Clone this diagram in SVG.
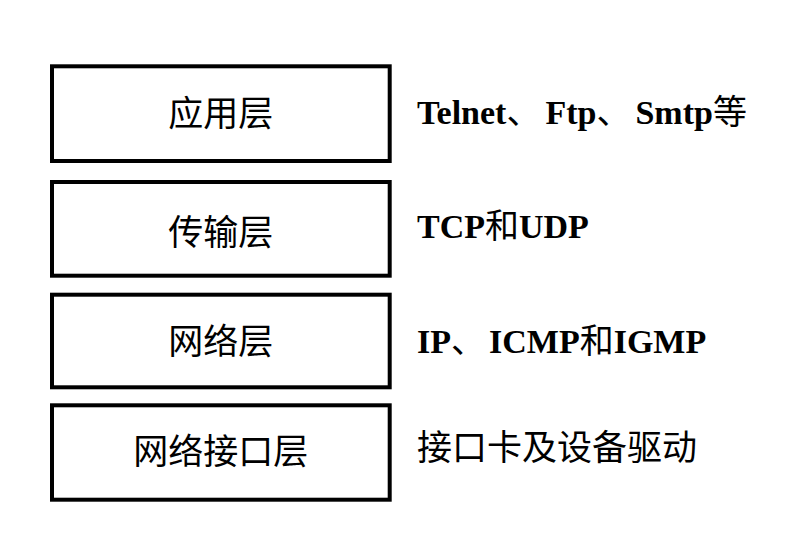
<svg xmlns="http://www.w3.org/2000/svg" width="785" height="557" viewBox="0 0 785 557">
<style>
.box{fill:#fff;stroke:#000;stroke-width:4}
.cn{font-family:"Noto Sans CJK SC","Noto Sans",sans-serif;font-size:35px;fill:#000}
.bd{font-family:"Liberation Serif","Noto Sans CJK SC",serif;font-size:34px;font-weight:bold;fill:#000}
.cj{font-family:"Noto Sans CJK SC",sans-serif;font-weight:normal}
</style>
<rect width="785" height="557" fill="#fff"/>
<g id="app">
<rect class="box" x="52" y="66.3" width="337.7" height="94.7"/>
<text class="cn" x="220.8" y="110.5" text-anchor="middle" dominant-baseline="central">应用层</text>
</g>
<g id="transport">
<rect class="box" x="52" y="182" width="337.7" height="93.7"/>
<text class="cn" x="220.8" y="229" text-anchor="middle" dominant-baseline="central">传输层</text>
</g>
<g id="network">
<rect class="box" x="52" y="294.7" width="337.7" height="92.6"/>
<text class="cn" x="220.8" y="338.5" text-anchor="middle" dominant-baseline="central">网络层</text>
</g>
<g id="link">
<rect class="box" x="52" y="405.3" width="337.7" height="94.4"/>
<text class="cn" x="220.8" y="448.5" text-anchor="middle" dominant-baseline="central">网络接口层</text>
</g>
<g id="labels">
<text class="bd" x="417" y="124">Telnet<tspan class="cj">、</tspan><tspan dx="5">Ftp</tspan><tspan class="cj">、</tspan><tspan dx="5">Smtp</tspan><tspan class="cj">等</tspan></text>
<text class="bd" x="417" y="238">TCP<tspan class="cj">和</tspan>UDP</text>
<text class="bd" x="417" y="353">IP<tspan class="cj">、</tspan><tspan dx="4">ICMP</tspan><tspan class="cj">和</tspan>IGMP</text>
<text class="cn" x="417" y="444" dominant-baseline="central">接口卡及设备驱动</text>
</g>
<g id="connectors"></g>
</svg>
